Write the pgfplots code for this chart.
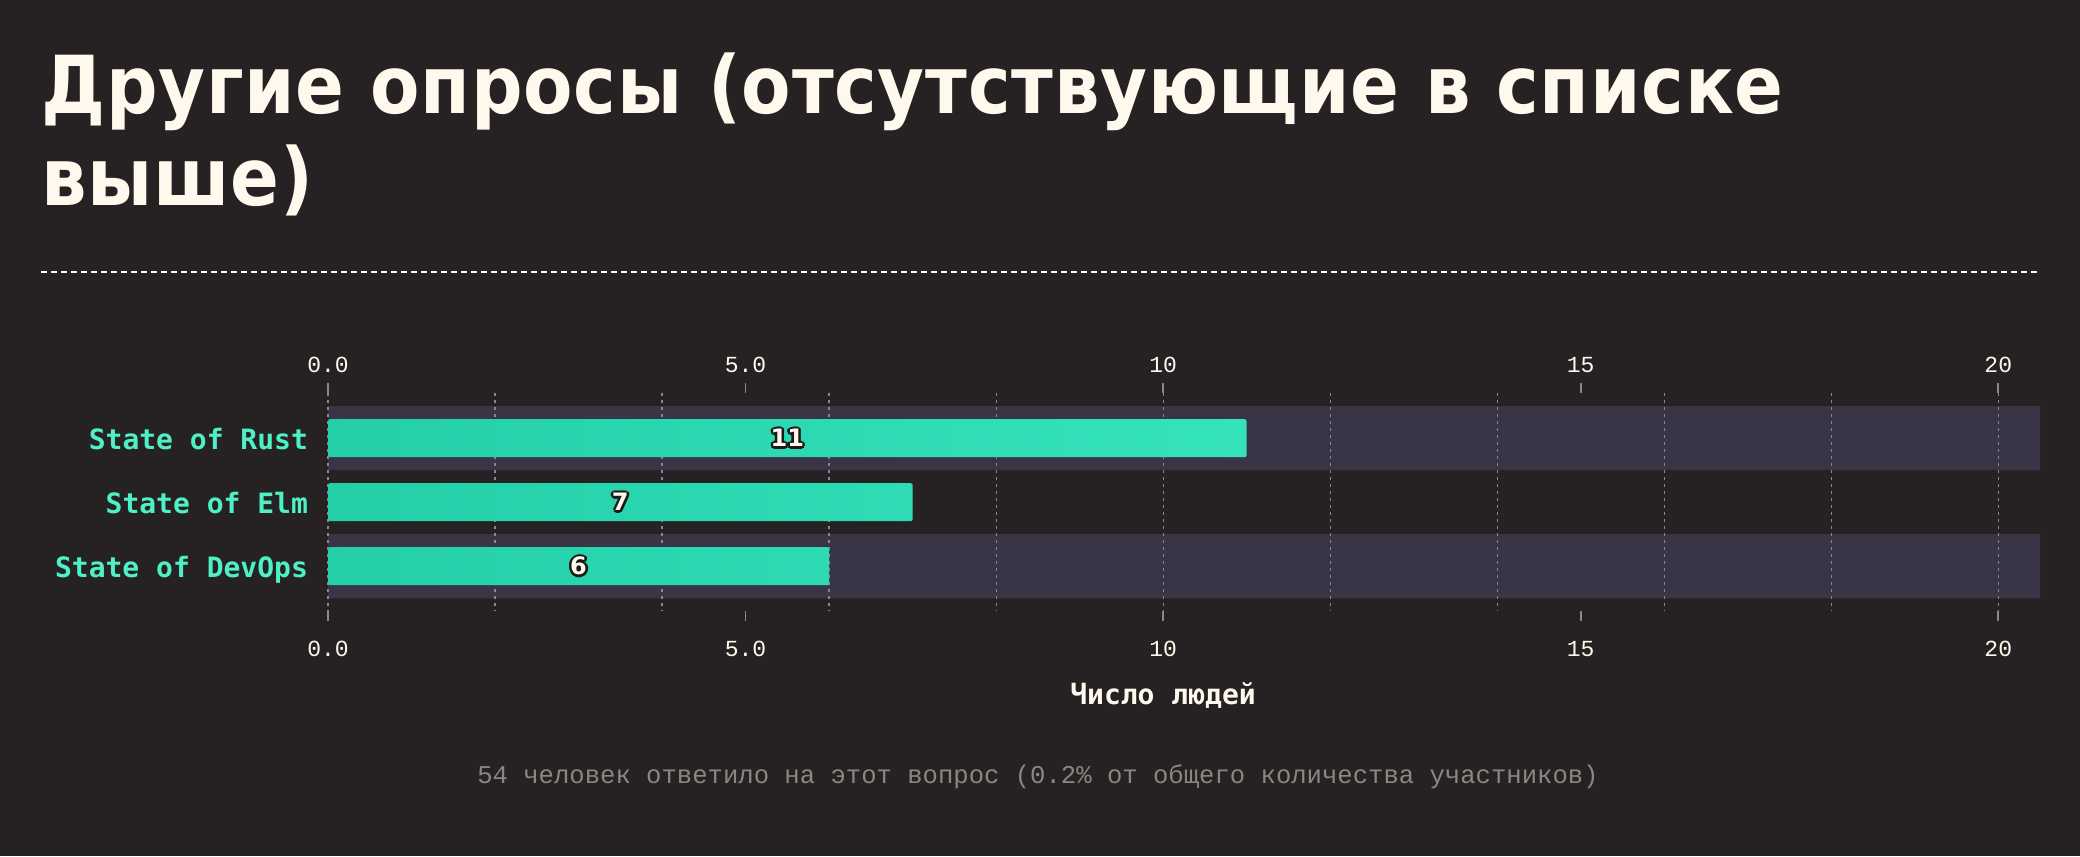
\documentclass[border=0pt]{standalone}
\usepackage{pgfplots}
\pgfplotsset{compat=1.18}
\usepackage{pgfplotstable}
\usepackage{fontspec}
\setmainfont{DejaVu Sans}
\newfontfamily\titlefont{DejaVu Sans Condensed}[LetterSpace=1]
\newfontfamily\labfont{DejaVu Sans}
\newfontfamily\monob{DejaVu Sans Mono}
\newfontfamily\monol{Liberation Mono}
\definecolor{bg}{HTML}{262224}
\definecolor{band}{HTML}{3A3447}
\definecolor{barL}{HTML}{24CFA8}
\definecolor{barR}{HTML}{35E3BB}
\definecolor{cat}{HTML}{4EF0C6}
\definecolor{cream}{HTML}{FFF8EC}
\definecolor{gridc}{HTML}{8A8590}
\definecolor{foot}{HTML}{8C8680}
\definecolor{outl}{HTML}{1C191B}
\newcommand\olc[3]{\rlap{\kern#1\raisebox{#2}{\color{outl}#3}}}
\newcommand\outlined[1]{\olc{-1.3pt}{0pt}{#1}\olc{1.3pt}{0pt}{#1}\olc{0pt}{1.3pt}{#1}\olc{0pt}{-1.3pt}{#1}\olc{-0.95pt}{0.95pt}{#1}\olc{0.95pt}{0.95pt}{#1}\olc{-0.95pt}{-0.95pt}{#1}\olc{0.95pt}{-0.95pt}{#1}{\color{cream}#1}}
\pgfplotstableread{
idx value
0 11
1 7
2 6
}\datatable
\pgfplotsset{
  common/.style={
    at={(164pt,-305.5pt)}, anchor=south west, scale only axis,
    width=856pt, height=108.8pt,
    xmin=0, xmax=20.5, ymin=-0.7, ymax=2.7, y dir=reverse,
  }
}
\begin{document}
\begin{tikzpicture}[x=1pt,y=1pt]
\fill[bg] (0,0) rectangle (1040,-428);
\node[anchor=base west, inner sep=0, text=cream, font=\titlefont\bfseries\fontsize{40}{40}\selectfont] at (20.5,-56.5) {Другие опросы (отсутствующие в списке};
\node[anchor=base west, inner sep=0, text=cream, font=\titlefont\bfseries\fontsize{40}{40}\selectfont] at (20.5,-102.5) {выше)};
\draw[cream, line width=1pt, dash pattern=on 3pt off 2pt] (20.5,-136) -- (1020,-136);
% background bands
\begin{axis}[common, hide axis]
\addplot[xbar, bar width=32pt, bar shift=0pt, draw=none, fill=band] coordinates {(20.5,0) (20.5,2)};
\end{axis}
% main axis
\begin{axis}[common,
  axis line style={draw=none},
  xtick={0,5,10,15,20}, xticklabels={0.0,5.0,10,15,20},
  minor xtick={0,2,...,20},
  xminorgrids, xmajorgrids=false,
  minor grid style={gridc, line width=0.6pt, dash pattern=on 1.2pt off 2.3pt},
  tick align=outside, xtick pos=both,
  major tick length=5pt, minor tick length=0pt,
  major tick style={gridc, line width=0.8pt},
  xticklabel pos=lower,
  xticklabel style={font=\monol\fontsize{11.5}{12}\selectfont, text=cream, anchor=center, yshift=-14pt},
  ytick={0,1,2}, yticklabels={State of Rust,State of Elm,State of DevOps},
  ytick style={draw=none},
  yticklabel style={font=\monob\bfseries\fontsize{14}{14}\selectfont, text=cat, anchor=base east, xshift=-1.5pt, yshift=-5.5pt},
]
\addplot[xbar, bar width=19pt, bar shift=0pt, draw=none, left color=barL, right color=barR, rounded corners=1pt] table[x=value, y=idx] {\datatable};
\addplot[draw=none, mark=none, point meta=explicit,
  /pgf/number format/assume math mode=true,
  nodes near coords={\outlined{\pgfmathprintnumber{\pgfplotspointmeta}}},
  every node near coord/.style={anchor=center, inner sep=0pt, font=\labfont\bfseries\fontsize{12}{12}\selectfont}]
  table[x expr=\thisrow{value}/2, y=idx, meta=value] {\datatable};
\end{axis}
% top tick labels
\begin{axis}[common,
  axis line style={draw=none},
  xtick={0,5,10,15,20}, xticklabels={0.0,5.0,10,15,20},
  major tick length=0pt, ytick=\empty,
  xticklabel pos=upper,
  xticklabel style={font=\monol\fontsize{11.5}{12}\selectfont, text=cream, anchor=center, yshift=14pt},
]
\end{axis}
\node[text=cream, font=\monob\bfseries\fontsize{14}{14}\selectfont] at (581.5,-347.5) {Число людей};
\node[text=foot, font=\monol\fontsize{12.8}{13}\selectfont] at (519,-388.5) {54 человек ответило на этот вопрос (0.2\% от общего количества участников)};
\pgfresetboundingbox
\useasboundingbox (0,0) rectangle (1040,-428);
\end{tikzpicture}
\end{document}
